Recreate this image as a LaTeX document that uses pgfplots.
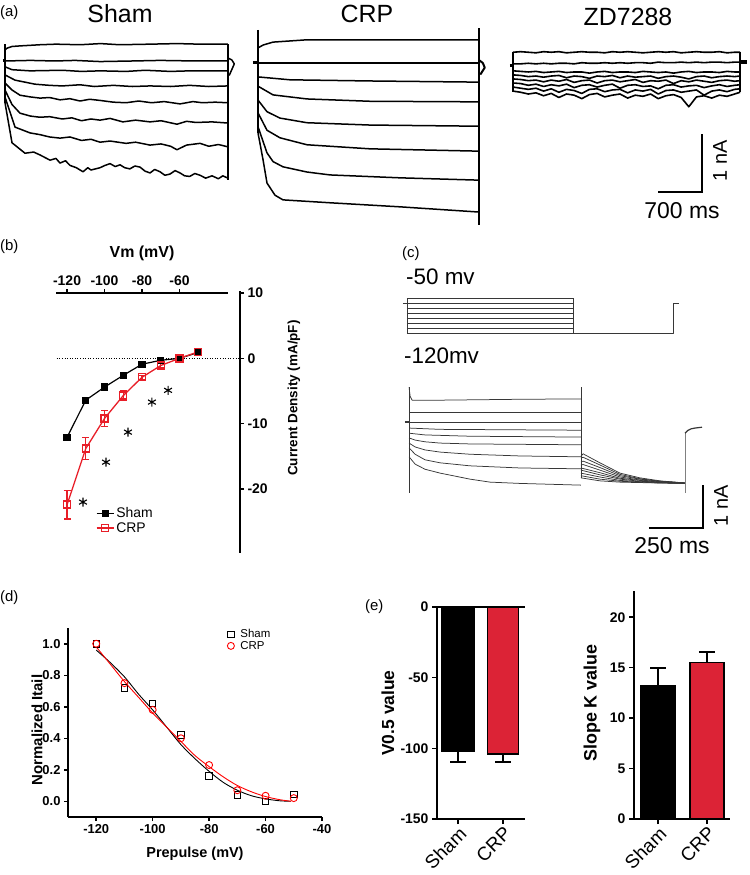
\documentclass[border=0pt]{standalone}
\usepackage{pgfplots}
\usepackage{pgfplotstable}
\pgfplotsset{compat=1.18}
\usepackage{fontspec}
\setmainfont{Liberation Sans}
\definecolor{crpred}{RGB}{220,35,54}
\definecolor{linered}{RGB}{232,30,40}
\definecolor{tracegray}{RGB}{55,55,55}
\newcommand{\fs}[1]{\fontsize{#1}{#1}\selectfont}
\pgfplotsset{
  panel/.style={scale only axis, anchor=north west, clip=false},
  trace/.style={panel, hide axis, no markers},
  tr/.style={black, line width=1.5bp, line join=round},
  tc/.style={tracegray, line width=0.75bp, line join=round},
}
% ZD7288 traces (time ms, current nA)
\pgfplotstableread{
t    A    B    C     D     E     F     G     H
0    0.22 0.02 -0.10 -0.17 -0.24 -0.31 -0.38 -0.45
120  0.23 0.02 -0.11 -0.18 -0.25 -0.32 -0.40 -0.47
240  0.22 0.03 -0.12 -0.20 -0.27 -0.35 -0.42 -0.50
360  0.21 0.02 -0.11 -0.19 -0.26 -0.33 -0.40 -0.48
480  0.23 0.03 -0.13 -0.21 -0.29 -0.37 -0.45 -0.53
600  0.22 0.02 -0.12 -0.19 -0.26 -0.34 -0.41 -0.49
720  0.23 0.03 -0.11 -0.18 -0.28 -0.36 -0.47 -0.56
840  0.21 0.03 -0.13 -0.22 -0.25 -0.33 -0.42 -0.50
960  0.22 0.02 -0.12 -0.19 -0.30 -0.39 -0.44 -0.52
1080 0.23 0.04 -0.12 -0.20 -0.27 -0.35 -0.49 -0.58
1200 0.22 0.03 -0.14 -0.23 -0.26 -0.34 -0.42 -0.51
1320 0.22 0.03 -0.12 -0.19 -0.31 -0.38 -0.41 -0.49
1440 0.21 0.04 -0.11 -0.20 -0.27 -0.35 -0.46 -0.55
1560 0.23 0.03 -0.13 -0.18 -0.26 -0.33 -0.43 -0.52
1680 0.22 0.04 -0.12 -0.22 -0.29 -0.40 -0.42 -0.50
1800 0.23 0.03 -0.12 -0.19 -0.27 -0.35 -0.48 -0.57
1920 0.22 0.04 -0.13 -0.21 -0.25 -0.34 -0.43 -0.52
2040 0.21 0.04 -0.11 -0.20 -0.30 -0.37 -0.45 -0.54
2160 0.22 0.03 -0.12 -0.19 -0.27 -0.36 -0.42 -0.50
2280 0.23 0.05 -0.13 -0.23 -0.28 -0.41 -0.50 -0.58
2400 0.22 0.04 -0.12 -0.20 -0.26 -0.35 -0.44 -0.53
2520 0.23 0.04 -0.14 -0.19 -0.32 -0.34 -0.43 -0.51
2640 0.21 0.05 -0.12 -0.21 -0.27 -0.38 -0.47 -0.56
2760 0.22 0.04 -0.11 -0.24 -0.29 -0.36 -0.45 -0.72
2880 0.23 0.05 -0.13 -0.20 -0.26 -0.35 -0.43 -0.55
3000 0.22 0.04 -0.12 -0.19 -0.28 -0.39 -0.52 -0.53
3120 0.22 0.05 -0.12 -0.22 -0.30 -0.36 -0.45 -0.57
3240 0.23 0.05 -0.13 -0.20 -0.27 -0.34 -0.43 -0.52
3360 0.21 0.04 -0.11 -0.19 -0.26 -0.37 -0.46 -0.54
3480 0.22 0.05 -0.12 -0.20 -0.28 -0.35 -0.42 -0.50
3564 0.22 0.05 -0.12 -0.19 -0.27 -0.34 -0.41 -0.47
}\zdtable
\begin{document}
\begin{tikzpicture}
% ---------- panel labels and titles ----------
\node[anchor=base west, font=\fs{15}, inner sep=0] at (0bp,-16bp) {(a)};
\node[anchor=base, font=\fs{25}, inner sep=0] at (120bp,-22bp) {Sham};
\node[anchor=base, font=\fs{25}, inner sep=0] at (367bp,-22bp) {CRP};
\node[anchor=base, font=\fs{25}, inner sep=0] at (628bp,-25bp) {ZD7288};
\node[rotate=90, font=\fs{20}, inner sep=0] at (720bp,-161bp) {1 nA};
\node[anchor=base, font=\fs{23}, inner sep=0] at (682bp,-218bp) {700 ms};
\node[anchor=base west, font=\fs{15}, inner sep=0] at (0bp,-250bp) {(b)};
\node[anchor=base, font=\fs{16}\bfseries, inner sep=0] at (142bp,-257bp) {Vm (mV)};
\node[rotate=90, font=\fs{13.5}\bfseries, inner sep=0] at (294bp,-398bp) {Current Density (mA/pF)};
\node[anchor=base west, font=\fs{15}, inner sep=0] at (402bp,-257bp) {(c)};
\node[anchor=base west, font=\fs{22.5}, inner sep=0] at (406bp,-284bp) {-50 mv};
\node[anchor=base west, font=\fs{22.5}, inner sep=0] at (404bp,-363bp) {-120mv};
\node[rotate=90, font=\fs{20}, inner sep=0] at (721bp,-506bp) {1 nA};
\node[anchor=base, font=\fs{23}, inner sep=0] at (672bp,-553bp) {250 ms};
\node[anchor=base west, font=\fs{15}, inner sep=0] at (0bp,-601bp) {(d)};
\node[rotate=90, font=\fs{15}\bfseries, inner sep=0] at (37bp,-730bp) {Normalized Itail};
\node[anchor=base, font=\fs{14.5}\bfseries, inner sep=0] at (195bp,-857bp) {Prepulse (mV)};
\node[anchor=base west, font=\fs{15}, inner sep=0] at (365bp,-610bp) {(e)};
\node[rotate=90, font=\fs{17.5}\bfseries, inner sep=0] at (388bp,-713bp) {V0.5 value};
\node[rotate=90, font=\fs{18}\bfseries, inner sep=0] at (592bp,-703bp) {Slope K value};

% ---------- (a) Sham traces ----------
\begin{axis}[trace, at={(5bp,-35bp)}, width=230bp, height=150bp,
  xmin=0, xmax=3611, ymin=-2.138, ymax=0.448]
\addplot[tr, line width=3bp] coordinates {(-32,0) (16,0)};
\addplot[tr] coordinates {(0,0.19) (31,0.22) (110,0.25) (236,0.26) (550,0.28) (800,0.29) (1178,0.28) (1500,0.30) (1800,0.28) (2277,0.29) (2700,0.30) (3062,0.29) (3500,0.29)};
\addplot[tr] coordinates {(0,0) (400,0.01) (785,0.0) (1100,0.01) (1492,-0.01) (2000,0.0) (2434,0.01) (3000,0.0) (3500,0)};
\addplot[tr] coordinates {(0,-0.10) (110,-0.15) (393,-0.17) (900,-0.16) (1200,-0.18) (1492,-0.17) (1900,-0.18) (2200,-0.16) (2600,-0.18) (2900,-0.17) (3500,-0.17)};
\addplot[tr] coordinates {(0,-0.24) (157,-0.33) (471,-0.40) (700,-0.42) (900,-0.43) (1178,-0.41) (1400,-0.44) (1700,-0.42) (2000,-0.44) (2277,-0.43) (2600,-0.44) (2900,-0.42) (3200,-0.44) (3500,-0.43)};
\addplot[tr] coordinates {(0,-0.38) (110,-0.50) (236,-0.59) (400,-0.62) (550,-0.64) (700,-0.63) (864,-0.67) (1020,-0.65) (1178,-0.69) (1330,-0.66) (1492,-0.68) (1700,-0.71) (1900,-0.72) (2100,-0.69) (2300,-0.72) (2500,-0.70) (2748,-0.74) (2950,-0.70) (3100,-0.72) (3300,-0.71) (3500,-0.72)};
\addplot[tr] coordinates {(0,-0.50) (110,-0.75) (236,-0.90) (400,-0.95) (550,-0.97) (700,-0.96) (900,-1.00) (1050,-0.98) (1200,-1.03) (1350,-1.00) (1492,-1.02) (1650,-0.99) (1850,-1.05) (2050,-1.02) (2277,-1.05) (2450,-1.03) (2700,-1.09) (2850,-1.04) (3000,-1.06) (3250,-1.05) (3500,-1.07)};
\addplot[tr] coordinates {(0,-0.62) (157,-1.14) (393,-1.24) (550,-1.27) (700,-1.31) (864,-1.33) (1020,-1.31) (1200,-1.37) (1350,-1.35) (1492,-1.40) (1650,-1.38) (1900,-1.42) (2050,-1.40) (2277,-1.45) (2450,-1.43) (2600,-1.47) (2700,-1.53) (2850,-1.45) (3062,-1.42) (3200,-1.47) (3350,-1.44) (3500,-1.48)};
\addplot[tr] coordinates {(0,-0.72) (110,-1.41) (314,-1.59) (450,-1.57) (550,-1.62) (707,-1.71) (800,-1.68) (864,-1.76) (950,-1.72) (1020,-1.80) (1120,-1.84) (1225,-1.91) (1300,-1.84) (1350,-1.88) (1492,-1.84) (1570,-1.80) (1650,-1.77) (1730,-1.82) (1806,-1.79) (1880,-1.84) (1960,-1.86) (2040,-1.81) (2120,-1.83) (2200,-1.90) (2277,-1.93) (2350,-1.87) (2434,-1.91) (2510,-1.97) (2590,-1.95) (2670,-1.89) (2748,-1.93) (2820,-1.98) (2900,-1.99) (2980,-1.94) (3062,-1.97) (3150,-2.02) (3250,-1.98) (3350,-2.03) (3420,-1.98) (3500,-2.02)};
\addplot[tr] coordinates {(0,0.29) (0,-0.72)};
\addplot[tr] coordinates {(3500,0.29) (3500,-2.05)};
\addplot[tr] coordinates {(3500,0.05) (3560,0.02) (3600,-0.05) (3560,-0.15) (3520,-0.25)};
\end{axis}

% ---------- (a) CRP traces ----------
\begin{axis}[trace, at={(250bp,-25bp)}, width=235bp, height=203bp,
  xmin=-126, xmax=3564, ymin=-2.845, ymax=0.655]
\addplot[tr, line width=3bp] coordinates {(-80,0) (0,0)};
\addplot[tr] coordinates {(0,0.26) (80,0.31) (236,0.36) (769,0.40) (3470,0.40)};
\addplot[tr] coordinates {(0,0) (3470,0)};
\addplot[tr] coordinates {(0,-0.24) (502,-0.29) (1758,-0.31) (3470,-0.33)};
\addplot[tr] coordinates {(0,-0.40) (236,-0.55) (769,-0.62) (1758,-0.66) (3470,-0.67)};
\addplot[tr] coordinates {(0,-0.64) (141,-0.84) (345,-0.95) (769,-1.03) (1758,-1.07) (3470,-1.09)};
\addplot[tr] coordinates {(0,-0.86) (141,-1.16) (345,-1.29) (769,-1.41) (1758,-1.48) (3470,-1.52)};
\addplot[tr] coordinates {(0,-1.10) (141,-1.55) (236,-1.70) (392,-1.79) (769,-1.88) (1130,-1.93) (2229,-1.98) (3470,-2.02)};
\addplot[tr] coordinates {(0,-1.21) (16,-1.30) (79,-1.67) (141,-2.07) (267,-2.28) (392,-2.36) (1130,-2.41) (2229,-2.48) (3470,-2.57)};
\addplot[tr] coordinates {(0,0.57) (0,-1.21)};
\addplot[tr] coordinates {(3470,0.60) (3470,-2.79)};
\addplot[tr, line width=2bp] coordinates {(3470,0.05) (3530,0.0) (3560,-0.08) (3490,-0.2)};
\end{axis}

% ---------- (a) ZD7288 traces ----------
\begin{axis}[trace, at={(505bp,-45bp)}, width=245bp, height=70bp,
  xmin=-126, xmax=3721, ymin=-0.862, ymax=0.345]
\addplot[tr, line width=3bp] coordinates {(-50,0) (0,0)};
\addplot[tr, line width=4bp] coordinates {(3564,0.05) (3680,0.05)};
\addplot[tr, line width=1.6bp] table[x=t, y=A] {\zdtable};
\addplot[tr, line width=1.6bp] table[x=t, y=B] {\zdtable};
\addplot[tr, line width=1.6bp] table[x=t, y=C] {\zdtable};
\addplot[tr, line width=1.6bp] table[x=t, y=D] {\zdtable};
\addplot[tr, line width=1.6bp] table[x=t, y=E] {\zdtable};
\addplot[tr, line width=1.6bp] table[x=t, y=F] {\zdtable};
\addplot[tr, line width=1.6bp] table[x=t, y=G] {\zdtable};
\addplot[tr, line width=1.6bp] table[x=t, y=H] {\zdtable};
\addplot[tr] coordinates {(0,0.22) (0,-0.47)};
\addplot[tr] coordinates {(3564,0.22) (3564,-0.47)};
% scale bar: 700 ms, 1 nA
\draw[line width=2bp] (axis cs:2277,-2.19) -- (axis cs:2967,-2.19) -- (axis cs:2967,-1.19);
\end{axis}

% ---------- (b) I-V curve ----------
\begin{axis}[panel, at={(56bp,-293bp)}, width=184bp, height=260bp,
  xmin=-125.9, xmax=-27.7, ymin=-29.8, ymax=10,
  axis x line*=top, axis y line*=right,
  axis line style={draw=none},
  xtick={-120,-100,-80,-60}, ytick={-20,-10,0,10},
  tick align=outside, major tick length=4bp,
  tick style={black, line width=1.6bp},
  /pgf/number format/assume math mode=true,
  tick label style={font=\fs{14}\bfseries},
  legend style={at={(0.2,0.19)}, anchor=north west, draw=none, fill=none,
    font=\fs{14}, row sep=-1bp},
  legend cell align=left]
\draw[line width=2.3bp] (axis cs:-125.9,10) -- (axis cs:-34,10);
\draw[line width=2.3bp] (axis cs:-27.7,10.3) -- (axis cs:-27.7,-29.8);
\addplot[forget plot, black, dotted, line width=0.6bp] coordinates {(-125.5,0) (-28.5,0)};
\addplot[black, line width=1.2bp, mark=square*, mark size=3bp,
  error bars/.cd, y dir=both, y explicit, error bar style={line width=1bp}]
  coordinates {(-120,-12.1) +- (0,0.5) (-110,-6.4) +- (0,0.3) (-100,-4.4) +- (0,0.3) (-90,-2.6) +- (0,0.5) (-80,-0.9) +- (0,0.2) (-70,-0.3) +- (0,0.2) (-60,0) +- (0,0.2) (-50,0.9) +- (0,0.2)};
\addlegendentry{Sham}
\addplot[linered, line width=1.3bp, mark=square, mark size=3.5bp,
  mark options={line width=1.4bp, fill=white, solid},
  error bars/.cd, y dir=both, y explicit, error bar style={line width=1.2bp, linered},
  error mark options={rotate=90, mark size=3.5bp, line width=1.2bp, linered}]
  coordinates {(-120,-22.4) +- (0,2.2) (-110,-13.8) +- (0,1.7) (-100,-9.2) +- (0,1.2) (-90,-5.7) +- (0,0.8) (-80,-2.9) +- (0,0.3) (-70,-1.1) +- (0,0.3) (-60,0) +- (0,0.2) (-50,1.0) +- (0,0.2)};
\addlegendentry{CRP}
\addplot[forget plot, only marks, black, mark=asterisk, mark size=4.5bp, mark options={line width=1.1bp}]
  coordinates {(-111.5,-22.0) (-99.2,-15.9) (-87.5,-11.3) (-74.7,-6.7) (-66.1,-4.9)};
\end{axis}

% ---------- (c) protocol ----------
\begin{axis}[trace, at={(400bp,-290bp)}, width=290bp, height=50bp,
  xmin=-32, xmax=1310, ymin=-134, ymax=-34]
\addplot[tc] coordinates {(0,-50) (769,-50)};
\addplot[tc] coordinates {(0,-60) (769,-60)};
\addplot[tc] coordinates {(0,-70) (769,-70)};
\addplot[tc] coordinates {(0,-80) (769,-80)};
\addplot[tc] coordinates {(0,-90) (769,-90)};
\addplot[tc] coordinates {(0,-100) (769,-100)};
\addplot[tc] coordinates {(0,-110) (769,-110)};
\addplot[tc] coordinates {(0,-120) (769,-120)};
\addplot[tc] coordinates {(0,-50) (0,-120)};
\addplot[tc] coordinates {(769,-50) (769,-120)};
\addplot[tc] coordinates {(-19,-60) (0,-60)};
\addplot[tc] coordinates {(769,-120) (1232,-120) (1232,-60) (1259,-60)};
\end{axis}

% ---------- (c) currents ----------
\begin{axis}[trace, at={(400bp,-380bp)}, width=310bp, height=115bp,
  xmin=-42, xmax=1394, ymin=-1.70, ymax=0.98]
\addplot[tc] coordinates {(0,0.81) (5,0.60) (14,0.51) (144,0.51) (500,0.53) (796,0.54)};
\addplot[tc] coordinates {(0,0.23) (796,0.23)};
\addplot[tc, line width=1.4bp] coordinates {(-19,0) (0,0)};
\addplot[tc] coordinates {(0,0) (796,0)};
\addplot[tc] coordinates {(0,-0.14) (144,-0.17) (796,-0.19)};
\addplot[tc] coordinates {(0,-0.26) (74,-0.30) (282,-0.33) (796,-0.35)};
\addplot[tc] coordinates {(0,-0.37) (28,-0.42) (74,-0.46) (144,-0.49) (282,-0.51) (796,-0.53)};
\addplot[tc] coordinates {(0,-0.49) (28,-0.58) (74,-0.65) (144,-0.70) (282,-0.75) (514,-0.79) (796,-0.81)};
\addplot[tc] coordinates {(0,-0.60) (28,-0.75) (74,-0.88) (144,-0.95) (282,-1.02) (514,-1.07) (796,-1.09)};
\addplot[tc] coordinates {(0,-0.81) (28,-0.98) (74,-1.10) (144,-1.19) (282,-1.33) (375,-1.40) (514,-1.43) (796,-1.47)};
\addplot[tc] coordinates {(796,-0.80) (806,-0.74) (884,-0.95) (977,-1.19) (1069,-1.30) (1162,-1.37) (1278,-1.42)};
\addplot[tc] coordinates {(796,-0.84) (806,-0.82) (884,-1.00) (977,-1.22) (1069,-1.32) (1162,-1.38) (1278,-1.42)};
\addplot[tc] coordinates {(796,-0.93) (806,-0.91) (884,-1.06) (977,-1.25) (1069,-1.33) (1162,-1.38) (1278,-1.42)};
\addplot[tc] coordinates {(796,-1.00) (806,-0.99) (884,-1.12) (977,-1.28) (1069,-1.35) (1162,-1.39) (1278,-1.42)};
\addplot[tc] coordinates {(796,-1.07) (884,-1.18) (977,-1.31) (1069,-1.36) (1162,-1.40) (1278,-1.42)};
\addplot[tc] coordinates {(796,-1.12) (884,-1.23) (977,-1.33) (1069,-1.38) (1162,-1.40) (1278,-1.43)};
\addplot[tc] coordinates {(796,-1.19) (884,-1.28) (977,-1.36) (1069,-1.39) (1162,-1.41) (1278,-1.43)};
\addplot[tc] coordinates {(796,-1.25) (884,-1.33) (977,-1.38) (1069,-1.40) (1162,-1.42) (1278,-1.43)};
\addplot[tc] coordinates {(796,-1.30) (884,-1.37) (977,-1.40) (1069,-1.41) (1162,-1.42) (1278,-1.43)};
\addplot[tc] coordinates {(0,0.81) (0,-1.65)};
\addplot[tc] coordinates {(796,0.81) (796,-1.30)};
\addplot[tc, gray] coordinates {(1278,-1.65) (1278,-0.26)};
\addplot[tc, line width=1.2bp] coordinates {(1278,-0.26) (1290,-0.20) (1305,-0.16) (1324,-0.14) (1357,-0.12)};
% scale bar: 250 ms, 1 nA
\draw[line width=2bp] (axis cs:1111,-2.47) -- (axis cs:1361,-2.47) -- (axis cs:1361,-1.47);
\end{axis}

% ---------- (d) activation curve ----------
\begin{axis}[panel, at={(68bp,-628bp)}, width=254bp, height=189bp,
  xmin=-130, xmax=-40, ymin=-0.1, ymax=1.1,
  axis x line*=bottom, axis y line*=left,
  axis line style={line width=2bp},
  xtick={-120,-100,-80,-60,-40}, ytick={0,0.2,0.4,0.6,0.8,1},
  yticklabel style={/pgf/number format/.cd, fixed, fixed zerofill, precision=1},
  tick align=outside, major tick length=4bp,
  tick style={black, line width=1.5bp},
  /pgf/number format/assume math mode=true,
  tick label style={font=\fs{13}\bfseries},
  legend image code/.code={\draw[mark repeat=2, mark phase=2, #1] plot coordinates {(0bp,0bp) (5bp,0bp) (10bp,0bp)};},
  legend style={at={(0.615,1.015)}, anchor=north west, draw=none, fill=none,
    font=\fs{11.5}, row sep=-2bp, /tikz/every odd column/.append style={column sep=4bp}},
  legend cell align=left]
\addplot[forget plot, black, line width=0.9bp, smooth] coordinates {(-120,0.96) (-115,0.88) (-110,0.79) (-105,0.68) (-100,0.58) (-95,0.47) (-90,0.36) (-85,0.27) (-80,0.19) (-75,0.12) (-70,0.07) (-65,0.035) (-60,0.015) (-55,0.003) (-51,0.0)};
\addplot[forget plot, red, line width=0.9bp, smooth] coordinates {(-120,0.98) (-115,0.87) (-110,0.76) (-105,0.66) (-100,0.56) (-95,0.47) (-90,0.38) (-85,0.29) (-80,0.22) (-75,0.155) (-70,0.10) (-65,0.06) (-60,0.03) (-55,0.01) (-51,0.0)};
\addplot[only marks, black, mark=square, mark size=3.2bp, mark options={line width=0.9bp}]
  coordinates {(-120,1.0) (-110,0.72) (-100,0.62) (-90,0.42) (-80,0.16) (-70,0.04) (-60,0.0) (-50,0.045)};
\addlegendentry{Sham}
\addplot[only marks, red, mark=o, mark size=3.5bp, mark options={line width=0.9bp}]
  coordinates {(-120,1.0) (-110,0.75) (-100,0.58) (-90,0.40) (-80,0.23) (-70,0.07) (-60,0.035) (-50,0.02)};
\addlegendentry{CRP}
\end{axis}

% ---------- (e) V0.5 bars ----------
\begin{axis}[panel, at={(437bp,-607bp)}, width=88bp, height=212bp,
  xmin=-0.467, xmax=1.49, ymin=-150, ymax=0,
  axis x line*=bottom, axis y line*=left,
  axis line style={line width=2bp},
  xtick={0,1}, xticklabels={Sham,CRP}, ytick={-150,-100,-50,0},
  tick align=outside, major tick length=5bp,
  tick style={black, line width=1.6bp},
  /pgf/number format/assume math mode=true,
  yticklabel style={font=\fs{14}\bfseries},
  xticklabel style={font=\fs{19}, rotate=45, anchor=north east, inner sep=1bp}]
\draw[line width=2bp] (axis cs:-0.467,0) -- (axis cs:1.49,0);
\addplot[ybar, bar width=33bp, bar shift=0pt, fill=black, draw=black, line width=1.5bp,
  error bars/.cd, y dir=minus, y explicit, error bar style={line width=2bp, black},
  error mark options={rotate=90, mark size=8bp, line width=2bp, black}]
  coordinates {(0,-101.8) +- (0,7.8)};
\addplot[ybar, bar width=31bp, bar shift=0pt, fill=crpred, draw=black, line width=1.5bp,
  error bars/.cd, y dir=minus, y explicit, error bar style={line width=2bp, black},
  error mark options={rotate=90, mark size=8bp, line width=2bp, black}]
  coordinates {(1,-104) +- (0,5.5)};
\end{axis}

% ---------- (e) slope bars ----------
\begin{axis}[panel, at={(634bp,-591bp)}, width=96bp, height=228bp,
  xmin=-0.49, xmax=1.47, ymin=0, ymax=22.6,
  axis x line*=bottom, axis y line*=left,
  axis line style={line width=2bp},
  xtick={0,1}, xticklabels={Sham,CRP}, ytick={0,5,10,15,20},
  tick align=outside, major tick length=5bp,
  tick style={black, line width=1.6bp},
  /pgf/number format/assume math mode=true,
  yticklabel style={font=\fs{14}\bfseries},
  xticklabel style={font=\fs{19}, rotate=45, anchor=north east, inner sep=1bp}]
\addplot[ybar, bar width=35bp, bar shift=0pt, fill=black, draw=black, line width=1.5bp,
  error bars/.cd, y dir=plus, y explicit, error bar style={line width=2bp, black},
  error mark options={rotate=90, mark size=8bp, line width=2bp, black}]
  coordinates {(0,13.2) +- (0,1.8)};
\addplot[ybar, bar width=34bp, bar shift=0pt, fill=crpred, draw=black, line width=1.5bp,
  error bars/.cd, y dir=plus, y explicit, error bar style={line width=2bp, black},
  error mark options={rotate=90, mark size=8bp, line width=2bp, black}]
  coordinates {(1,15.5) +- (0,1.1)};
\end{axis}

\pgfresetboundingbox
\path (0,0) rectangle (750bp,-875bp);
\end{tikzpicture}
\end{document}
